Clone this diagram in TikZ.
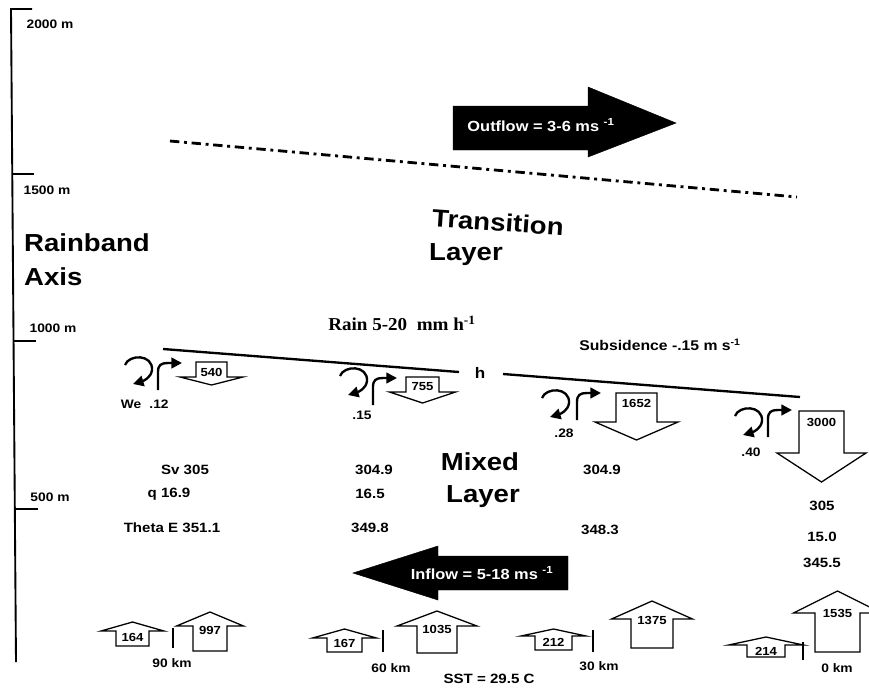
\documentclass[tikz,border=0pt]{standalone}
\usepackage{fontspec}
\setmainfont{Liberation Sans}[FakeStretch=1.12]
\newfontfamily\rainfont{Liberation Serif}[FakeStretch=1.05]
\usetikzlibrary{arrows.meta}

\tikzset{
  flux/.style={draw, line width=1.1pt, fill=white, line join=miter},
  num/.style={font=\bfseries\fontsize{10}{11}\selectfont, inner sep=0pt},
  lbl/.style={font=\bfseries\fontsize{10.5}{12}\selectfont, inner sep=0pt},
  val/.style={font=\bfseries\fontsize{11.5}{13}\selectfont, inner sep=0pt},
  big/.style={font=\bfseries\fontsize{21}{24}\selectfont, inner sep=0pt},
  curl/.pic={\draw[line width=2pt, -{Triangle[length=9pt,width=9pt]}]
    (0,8) .. controls (4,-3) and (28,-3) .. (27,13) .. controls (26,21) and (18,24) .. (8,27);},
  bend/.pic={\draw[line width=2pt, -{Triangle[length=9pt,width=9pt]}]
    (0,27) -- (0,9) .. controls (0,2) and (3,0) .. (10,0) -- (24,0);}
}

% block arrow: name, centre x, base y, half stem, shoulder y, half wing, tip y, label y, value
\newcommand{\flux}[9]{%
  \draw[flux] (#2-#4,#3) -- (#2+#4,#3) -- (#2+#4,#5) -- (#2+#6,#5) -- (#2,#7)
    -- (#2-#6,#5) -- (#2-#4,#5) -- cycle;
  \node[num] (#1) at (#2,#8) {#9};}

\begin{document}
\begin{tikzpicture}[x=0.03cm, y=-0.03cm]
    \useasboundingbox[fill=white] (0,0) rectangle (869,687);

    % Height axis
    \draw[line width=1.6pt] (32,9) -- (11,9) -- (16,662);
    \draw[line width=1.4pt] (12,174) -- (34,174);
    \draw[line width=1.4pt] (14,341) -- (36,341);
    \draw[line width=1.4pt] (16,509) -- (38,509);
    \node[lbl] (h2000) at (50,24) {2000 m};
    \node[lbl] (h1500) at (47,190) {1500 m};
    \node[lbl] (h1000) at (53,328) {1000 m};
    \node[lbl] (h500) at (50,497) {500 m};

    % Layer names
    \node[big, anchor=west] (rainband) at (24,243) {Rainband};
    \node[big, anchor=west] (axis) at (24,277) {Axis};
    \node[big, rotate=-4] (transition) at (498,222) {Transition};
    \node[big] (tlayer) at (466,255) {Layer};
    \node[big] (mixed) at (480,462) {Mixed};
    \node[big] (mlayer) at (483,497) {Layer};

    % Outflow
    \draw[fill=black] (453,106) -- (588,106) -- (588,87) -- (676,123) -- (588,157)
        -- (588,150) -- (453,150) -- cycle;
    \node[font=\bfseries\fontsize{12.5}{14}\selectfont, text=white] (outflow) at (541,125)
        {Outflow = 3-6 ms \textsuperscript{-1}};

    % Top of transition layer
    \coordinate (tl) at (170,141);
    \coordinate (tr) at (797,197);
    \draw[line width=2.4pt, dash pattern=on 8pt off 4pt on 2.5pt off 4pt] (tl) -- (tr);

    % Rain and subsidence
    \node[font=\rainfont\bfseries\fontsize{15.5}{17}\selectfont] (rain) at (402,323)
        {Rain 5-20\ \ mm h\textsuperscript{-1}};
    \node[font=\bfseries\fontsize{12}{14}\selectfont] (subs) at (660,345)
        {Subsidence -.15 m s\textsuperscript{-1}};

    % Top of mixed layer
    \node[font=\bfseries\fontsize{13}{14}\selectfont] (h) at (480,373) {h};
    \coordinate (hl1) at (163,349);
    \coordinate (hl2) at (459,372);
    \coordinate (hr1) at (503,374);
    \coordinate (hr2) at (800,397);
    \draw[line width=2pt] (hl1) -- (hl2);
    \draw[line width=2pt] (hr1) -- (hr2);

    % Entrainment
    \pic at (125,357) {curl};
    \pic at (158,363) {bend};
    \pic at (340,368) {curl};
    \pic at (373,378) {bend};
    \pic at (542,390) {curl};
    \pic at (577,393) {bend};
    \pic at (735,408) {curl};
    \pic at (768,410) {bend};
    \node[lbl] (we) at (131,404) {We};
    \node[lbl] (we1) at (159,404) {.12};
    \node[lbl] (we2) at (362,415) {.15};
    \node[lbl] (we3) at (564,433) {.28};
    \node[lbl] (we4) at (751,452) {.40};

    % Downward fluxes
    \flux{dn1}{211.5}{362}{15.5}{377}{31.5}{385}{372}{540}
    \flux{dn2}{422.5}{377}{16.5}{392}{33}{403}{387}{755}
    \flux{dn3}{636.5}{393}{20.5}{422}{41.5}{440}{403}{1652}
    \flux{dn4}{821.5}{411}{22.5}{453}{44.5}{482}{422}{3000}

    % Thermodynamic values
    \node[val] (sv1) at (185,470) {Sv 305};
    \node[val] (q1) at (169,494) {q 16.9};
    \node[val] (te1) at (172,528) {Theta E 351.1};
    \node[val] (sv2) at (374,470) {304.9};
    \node[val] (q2) at (370,494) {16.5};
    \node[val] (te2) at (370,528) {349.8};
    \node[val] (sv3) at (602,470) {304.9};
    \node[val] (te3) at (600,530) {348.3};
    \node[val] (sv4) at (822,506) {305};
    \node[val] (q4) at (822,537) {15.0};
    \node[val] (te4) at (822,563) {345.5};

    % Inflow
    \draw[fill=black] (568,556) -- (438,556) -- (438,546) -- (353,573) -- (438,600)
        -- (438,590) -- (568,590) -- cycle;
    \node[font=\bfseries\fontsize{12.5}{14}\selectfont, text=white] (inflow) at (482,573)
        {Inflow = 5-18 ms \textsuperscript{-1}};

    % Surface fluxes
    \flux{up1}{132.5}{646}{16.5}{631}{31.5}{622}{637}{164}
    \flux{up2}{210}{651}{17}{626}{33.5}{612}{630}{997}
    \flux{up3}{344.5}{652}{17.5}{638}{32}{629}{643}{167}
    \flux{up4}{437}{653}{20}{626}{40}{611}{629}{1035}
    \flux{up5}{553.5}{650}{18.5}{636}{32.5}{629}{642}{212}
    \flux{up6}{652}{648}{21}{619}{40.5}{601}{620}{1375}
    \flux{up7}{766}{657}{19}{645}{37.5}{637}{651}{214}
    \flux{up8}{837.5}{652}{22.5}{613}{44}{591}{613}{1535}

    % Distance marks
    \draw[line width=2.2pt] (173,628) -- (173,648);
    \draw[line width=2.2pt] (383,630) -- (383,652);
    \draw[line width=2.2pt] (593,630) -- (593,652);
    \draw[line width=2.2pt] (803,642) -- (803,660);
    \node[lbl] (km90) at (172,663) {90 km};
    \node[lbl] (km60) at (391,668) {60 km};
    \node[lbl] (km30) at (599,666) {30 km};
    \node[lbl] (km0) at (837,668) {0 km};
    \node[val] (sst) at (489,679) {SST = 29.5 C};
\end{tikzpicture}
\end{document}
